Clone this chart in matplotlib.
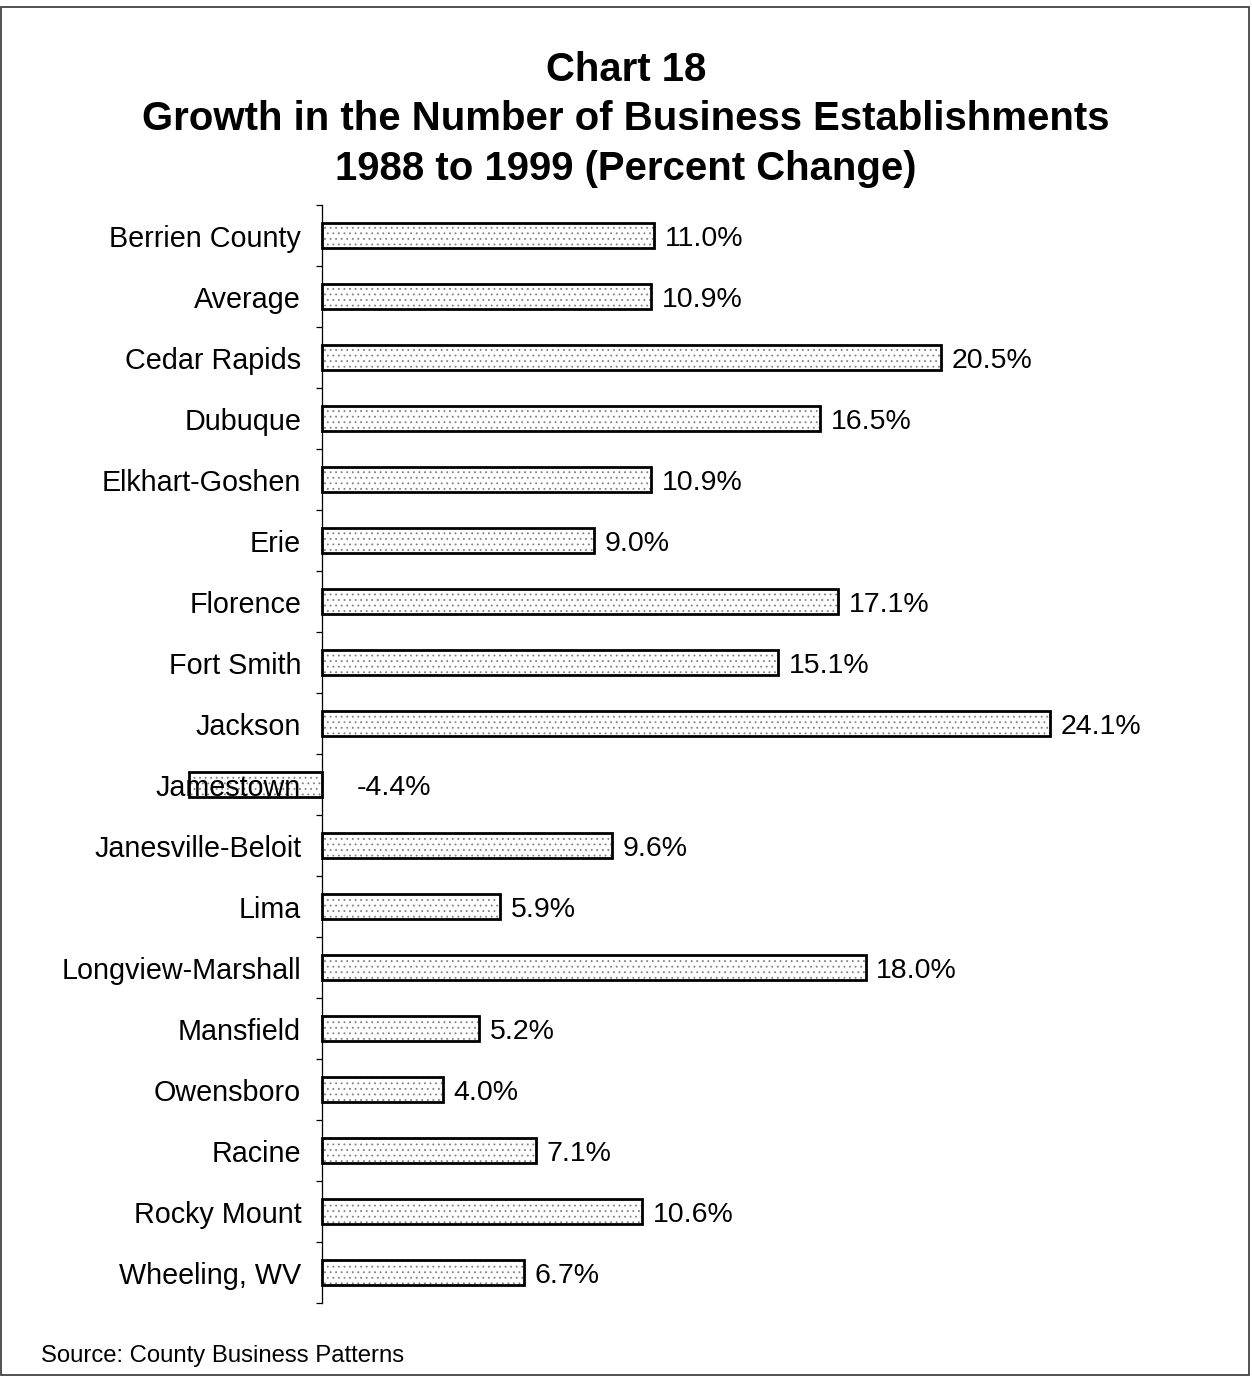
import matplotlib.pyplot as plt
from matplotlib.patches import Rectangle
import numpy as np

plt.rcParams['font.family'] = ['Liberation Sans', 'DejaVu Sans']
plt.rcParams['hatch.linewidth'] = 0.6

areas = ['Berrien County', 'Average', 'Cedar Rapids', 'Dubuque', 'Elkhart-Goshen',
         'Erie', 'Florence', 'Fort Smith', 'Jackson', 'Jamestown',
         'Janesville-Beloit', 'Lima', 'Longview-Marshall', 'Mansfield',
         'Owensboro', 'Racine', 'Rocky Mount', 'Wheeling, WV']
growth = [11.0, 10.9, 20.5, 16.5, 10.9, 9.0, 17.1, 15.1, 24.1, -4.4,
          9.6, 5.9, 18.0, 5.2, 4.0, 7.1, 10.6, 6.7]

fig = plt.figure(figsize=(12.52, 13.77), dpi=100)
ax = fig.add_axes([0.11246, 0.0537, 0.7960, 0.7974])

pos = np.arange(len(areas))
bars = ax.barh(pos, growth, height=0.4, color='white', edgecolor='black',
               linewidth=2, hatch='...', zorder=1)
for b in bars:
    b.set_edgecolor('black')
    b._hatch_color = (0.5, 0.5, 0.5, 1.0)

ax.set_xlim(-6, 27)
ax.set_ylim(len(areas) - 0.5, -0.5)

for p, v in zip(pos, growth):
    if v >= 0:
        ax.annotate(f'{v:.1f}%', (v, p), xytext=(7.5, -2.2), textcoords='offset points',
                    va='center', ha='left', fontsize=20.5)
    else:
        ax.annotate(f'{v:.1f}%', (0, p), xytext=(25, -2.2), textcoords='offset points',
                    va='center', ha='left', fontsize=20.5)

# vertical axis sits at zero, ticks between categories
for s in ['top', 'right', 'bottom']:
    ax.spines[s].set_visible(False)
ax.spines['left'].set_position(('data', 0))
ax.spines['left'].set_linewidth(0.9)
ax.set_xticks([])
ax.set_yticks(pos)
ax.set_yticklabels(areas, fontsize=20.7)
ax.set_yticks(np.arange(-0.5, len(areas)), minor=True)
ax.tick_params(axis='y', which='major', length=0, pad=15)
ax.tick_params(axis='y', which='minor', length=4.5, width=0.9)

fig.text(0.5, 1 - 119.5 / 1377,
         'Chart 18\nGrowth in the Number of Business Establishments\n1988 to 1999 (Percent Change)',
         ha='center', va='center', fontsize=28.9, fontweight='bold', linespacing=1.39)
fig.text(41 / 1252, 1 - 1362 / 1377, 'Source: County Business Patterns',
         ha='left', va='baseline', fontsize=17.2)

fig.patches.append(Rectangle((0.001, 0.0015), 0.997, 0.9935, transform=fig.transFigure,
                             fill=False, edgecolor='#333333', linewidth=1.2))

fig.savefig('out.png', dpi=100)
